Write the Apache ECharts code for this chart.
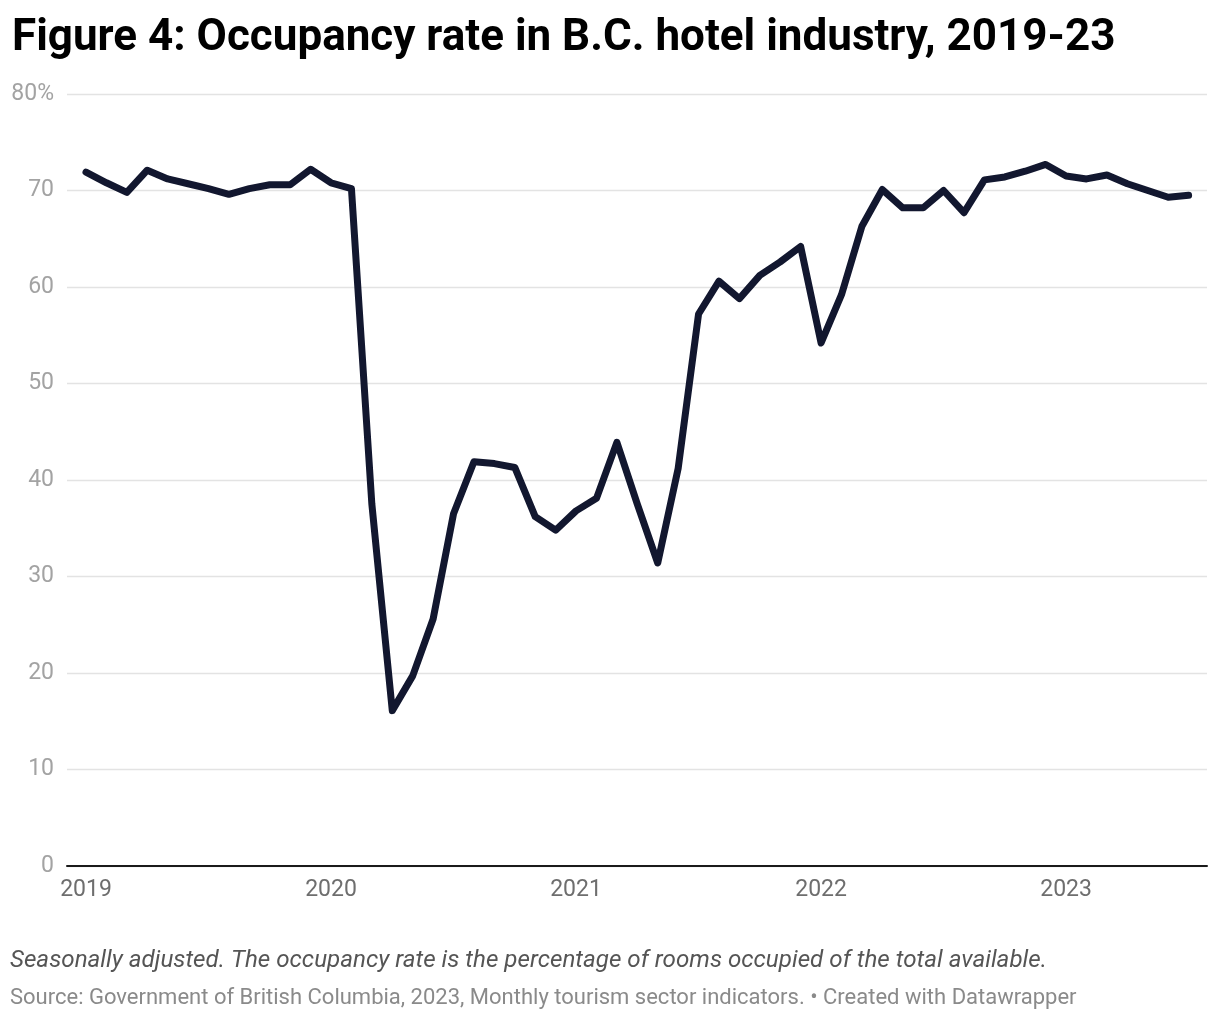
<!DOCTYPE html>
<html>
<head>
<meta charset="utf-8">
<script src="https://cdn.jsdelivr.net/npm/echarts@6/dist/echarts.min.js"></script>
<style>
  html, body { margin: 0; padding: 0; background: #ffffff; }
  #chart { width: 1220px; height: 1020px; }
</style>
</head>
<body>
<div id="chart"></div>
<script>
// ---- Data ----
const months = [
  '2019-01','2019-02','2019-03','2019-04','2019-05','2019-06','2019-07','2019-08','2019-09','2019-10','2019-11','2019-12',
  '2020-01','2020-02','2020-03','2020-04','2020-05','2020-06','2020-07','2020-08','2020-09','2020-10','2020-11','2020-12',
  '2021-01','2021-02','2021-03','2021-04','2021-05','2021-06','2021-07','2021-08','2021-09','2021-10','2021-11','2021-12',
  '2022-01','2022-02','2022-03','2022-04','2022-05','2022-06','2022-07','2022-08','2022-09','2022-10','2022-11','2022-12',
  '2023-01','2023-02','2023-03','2023-04','2023-05','2023-06','2023-07'
];
const occupancy = [
  71.9, 70.8, 69.8, 72.1, 71.2, 70.7, 70.2, 69.6, 70.2, 70.6, 70.6, 72.2,
  70.8, 70.2, 37.5, 16.1, 19.7, 25.6, 36.5, 41.9, 41.7, 41.3, 36.2, 34.8,
  36.8, 38.1, 43.9, 37.5, 31.4, 41.2, 57.2, 60.6, 58.8, 61.2, 62.6, 64.2,
  54.2, 59.2, 66.3, 70.1, 68.2, 68.2, 70.0, 67.7, 71.1, 71.4, 72.0, 72.7,
  71.5, 71.2, 71.6, 70.7, 70.0, 69.3, 69.5
];
const yearTicks = ['2019-01', '2020-01', '2021-01', '2022-01', '2023-01'];
const yTicks = [0, 10, 20, 30, 40, 50, 60, 70, 80];

const titleText = 'Figure 4: Occupancy rate in B.C. hotel industry, 2019-23';
const noteText = 'Seasonally adjusted. The occupancy rate is the percentage of rooms occupied of the total available.';
const sourceText = 'Source: Government of British Columbia, 2023, Monthly tourism sector indicators. \u2022 Created with Datawrapper';

// x position = month index within the months list
const seriesData = months.map((m, i) => [i, occupancy[i]]);
const yearTickIdx = yearTicks.map(t => months.indexOf(t));

const chart = echarts.init(document.getElementById('chart'), null, { renderer: 'canvas' });
const font = 'Roboto, "Noto Sans", sans-serif';

chart.setOption({
  backgroundColor: '#ffffff',
  animation: false,
  title: {
    text: titleText,
    left: 7,
    top: 12,
    textStyle: { fontFamily: font, fontWeight: 700, fontSize: 44, color: '#000000' }
  },
  grid: { left: 67, right: 13, top: 94, bottom: 154, containLabel: false },
  xAxis: {
    type: 'value',
    min: -0.93,
    max: months.length - 1 + 0.9,
    axisLine: { show: true, onZero: false, lineStyle: { color: '#1a1a1a', width: 2 } },
    axisTick: { show: false },
    splitLine: { show: false },
    axisLabel: {
      customValues: yearTickIdx,
      formatter: v => months[Math.round(v)].slice(0, 4),
      color: '#6e6e6e',
      fontFamily: font,
      fontSize: 23,
      margin: 13
    }
  },
  yAxis: {
    type: 'value',
    min: yTicks[0],
    max: yTicks[yTicks.length - 1],
    interval: 10,
    axisLine: { show: false },
    axisTick: { show: false },
    splitLine: { show: true, lineStyle: { color: '#e3e3e3', width: 1.3 } },
    axisLabel: {
      formatter: v => (v === 80 ? v + '%' : String(v)),
      color: '#a3a3a3',
      fontFamily: font,
      fontSize: 23,
      margin: 13
    }
  },
  series: [{
    type: 'line',
    data: seriesData,
    showSymbol: false,
    symbol: 'none',
    lineStyle: { color: '#12172f', width: 7, cap: 'round', join: 'round' },
    z: 5
  }],
  graphic: [
    {
      type: 'text',
      left: 10,
      top: 949,
      style: { text: noteText, font: 'italic 24.2px ' + font, fill: '#555555' }
    },
    {
      type: 'text',
      left: 10,
      top: 987,
      style: { text: sourceText, font: '22px ' + font, fill: '#8a8a8a' }
    }
  ]
});
</script>
</body>
</html>
